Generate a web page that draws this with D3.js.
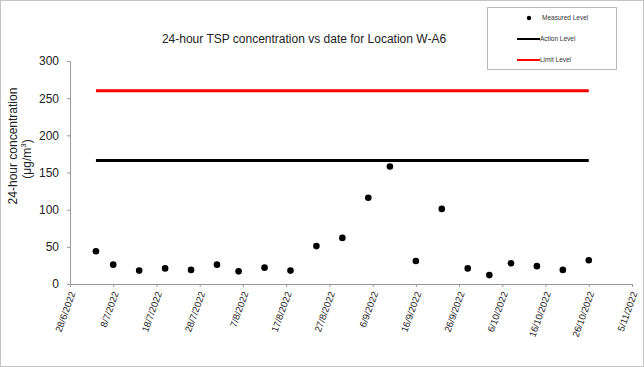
<!DOCTYPE html>
<html><head><meta charset="utf-8">
<script src="https://cdn.jsdelivr.net/npm/d3@7"></script>
<style>body{margin:0;background:#fff;}svg{display:block;font-family:"Liberation Sans",Arial,sans-serif;}</style>
</head><body>
<svg id="c" width="644" height="367"></svg>
<script>
const dates = ["2022-07-04","2022-07-08","2022-07-14","2022-07-20","2022-07-26","2022-08-01","2022-08-06","2022-08-12","2022-08-18","2022-08-24","2022-08-30","2022-09-05","2022-09-10","2022-09-16","2022-09-22","2022-09-28","2022-10-03","2022-10-08","2022-10-14","2022-10-20","2022-10-26"];
const measured = [44,26,18,21,19,26,17,22,18,51,62,116,158,31,101,21,12,28,24,19,32];
const actionLevel = 166;
const limitLevel = 260;
const levelRange = ["2022-07-04","2022-10-26"];
const xTickDates = ["2022-06-28","2022-07-08","2022-07-18","2022-07-28","2022-08-07","2022-08-17","2022-08-27","2022-09-06","2022-09-16","2022-09-26","2022-10-06","2022-10-16","2022-10-26","2022-11-05"];
const yTicks = [0,50,100,150,200,250,300];
const title = "24-hour TSP concentration vs date for Location W-A6";
const legendLabels = ["Measured Level","Action Level","Limit Level"];

const parse = d3.utcParse("%Y-%m-%d");
const fmt = d => `${d.getUTCDate()}/${d.getUTCMonth()+1}/${d.getUTCFullYear()}`;
const svg = d3.select("#c");
svg.append("rect").attr("x",0.5).attr("y",0.5).attr("width",643).attr("height",366)
  .attr("fill","#fff").attr("stroke","#888").attr("stroke-dasharray","1,1");

const x = d3.scaleUtc().domain([parse(xTickDates[0]), parse(xTickDates[xTickDates.length-1])]).range([70,632]);
const y = d3.scaleLinear().domain([0,300]).range([284,61]);

// axes
const gx = svg.append("g").attr("transform","translate(0,284)")
  .call(d3.axisBottom(x).tickValues(xTickDates.map(parse)).tickFormat(fmt).tickSize(3).tickSizeOuter(0));
gx.select(".domain").attr("stroke","#999");
gx.selectAll(".tick line").attr("stroke","#999");
gx.selectAll("text").attr("font-size",9.5).attr("fill","#222")
  .attr("text-anchor","end").attr("transform","translate(2,8) rotate(-70)").attr("dx",0).attr("dy","0.35em").attr("x",0).attr("y",0);

const gy = svg.append("g").attr("transform","translate(70,0)")
  .call(d3.axisLeft(y).tickValues(yTicks).tickSize(3).tickSizeOuter(0));
gy.select(".domain").attr("stroke","#999");
gy.selectAll(".tick line").attr("stroke","#999");
gy.selectAll("text").attr("font-size",12).attr("fill","#222").attr("x",-11);

// level lines
const lr = levelRange.map(parse);
svg.append("line").attr("x1",x(lr[0])).attr("x2",x(lr[1])).attr("y1",y(limitLevel)).attr("y2",y(limitLevel))
  .attr("stroke","#ff0000").attr("stroke-width",3);
svg.append("line").attr("x1",x(lr[0])).attr("x2",x(lr[1])).attr("y1",y(actionLevel)).attr("y2",y(actionLevel))
  .attr("stroke","#000").attr("stroke-width",3);

// points
svg.append("g").selectAll("circle").data(dates.map((d,i)=>({d:parse(d),v:measured[i]}))).join("circle")
  .attr("cx",d=>x(d.d)).attr("cy",d=>y(d.v)).attr("r",3.3).attr("fill","#000");

// title
svg.append("text").attr("x",304).attr("y",43).attr("text-anchor","middle").attr("font-size",12).attr("fill","#222").text(title);

// y label
svg.append("text").attr("transform","translate(17,146) rotate(-90)").attr("text-anchor","middle")
  .attr("font-size",12).attr("fill","#222").text("24-hour concentration");
const yl2 = svg.append("text").attr("transform","translate(31,159) rotate(-90)").attr("text-anchor","middle")
  .attr("font-size",12).attr("fill","#222");
yl2.append("tspan").text("(μg/m");
yl2.append("tspan").attr("font-size",8).attr("dy",-5).text("3");
yl2.append("tspan").attr("dy",5).text(")");

// legend
const lg = svg.append("g");
lg.append("rect").attr("x",487.5).attr("y",7.5).attr("width",129).attr("height",62).attr("fill","#fff")
  .attr("stroke","#777").attr("stroke-dasharray","1,1");
lg.append("circle").attr("cx",529).attr("cy",18).attr("r",2.2).attr("fill","#000");
lg.append("line").attr("x1",517).attr("x2",540).attr("y1",39).attr("y2",39).attr("stroke","#000").attr("stroke-width",2);
lg.append("line").attr("x1",517).attr("x2",540).attr("y1",60).attr("y2",60).attr("stroke","#ff0000").attr("stroke-width",2);
[18,39,60].forEach((yy,i)=>{
  lg.append("text").attr("x",i===0?542:540).attr("y",yy).attr("dy","0.35em").attr("font-size",6.5).attr("fill","#333").text(legendLabels[i]);
});
</script>
</body></html>
